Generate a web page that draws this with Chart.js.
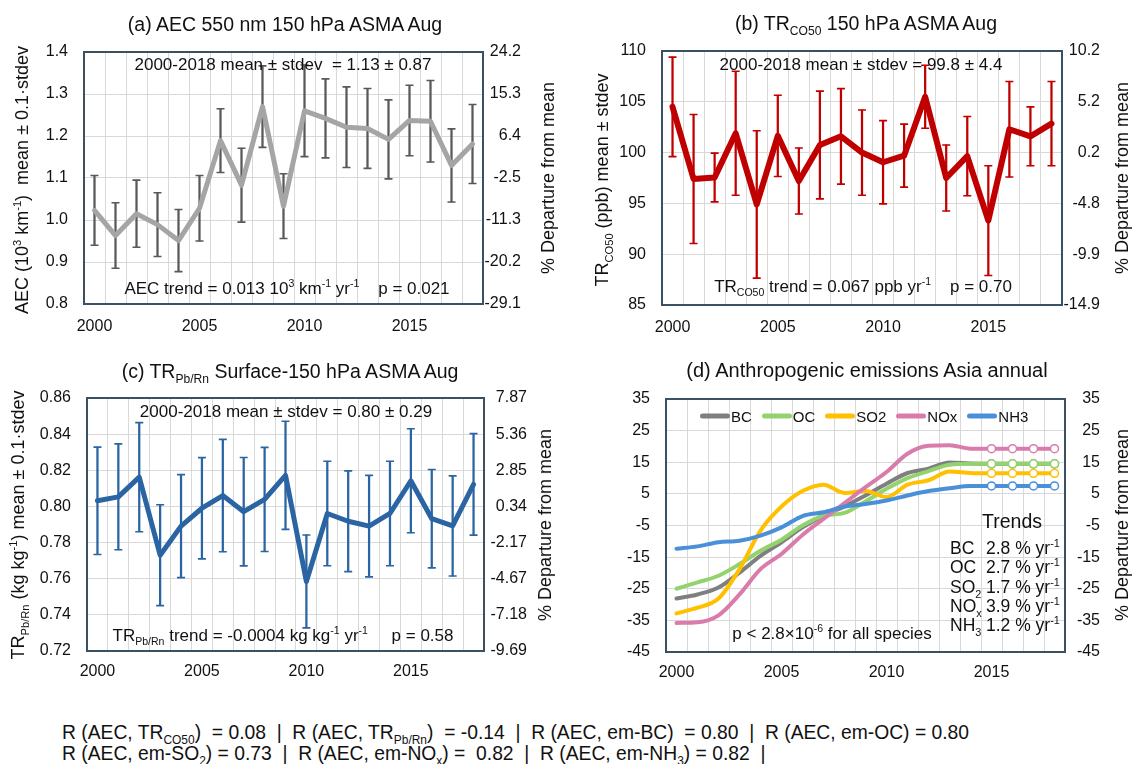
<!DOCTYPE html>
<html><head><meta charset="utf-8">
<script src="https://cdn.jsdelivr.net/npm/chart.js@4.4.1/dist/chart.umd.min.js"></script>
<style>
html,body{margin:0;padding:0;background:#fff;}
#page{position:relative;width:1132px;height:764px;overflow:hidden;font-family:'Liberation Sans',Arial,sans-serif;color:#111;background:#fff;}
canvas{position:absolute;}
.t{position:absolute;white-space:pre;transform:translate(-50%,-50%);line-height:1;}
.v{position:absolute;white-space:pre;transform:translate(-50%,-50%) rotate(-90deg);line-height:1;}
.l{position:absolute;white-space:pre;transform:translateY(-50%);line-height:1;}
sub,sup{font-size:0.62em;line-height:0;}
.title{font-size:19.5px;}
.axt{font-size:18px;}
.ann{font-size:17px;}
.tr{font-size:17.5px;}
#legendD{position:absolute;left:700px;top:416px;transform:translateY(-50%);display:flex;align-items:center;font-size:15px;}
#legendD .it{display:flex;align-items:center;margin-right:10px;}
#legendD .sw{display:inline-block;width:30px;height:5px;border-radius:3px;margin-right:1px;}
.bottom{position:absolute;left:62px;font-size:19.3px;white-space:pre;transform:translateY(-50%);line-height:1;}
</style>
</head><body>
<div id="page">
<canvas id="ca" width="566" height="340" style="left:0;top:0"></canvas>
<canvas id="cb" width="566" height="340" style="left:566px;top:0"></canvas>
<canvas id="cc" width="566" height="340" style="left:0;top:340px"></canvas>
<canvas id="cd" width="566" height="340" style="left:566px;top:340px"></canvas>

<!-- panel a -->
<div class="t title" style="left:285px;top:25px">(a) AEC 550 nm 150 hPa ASMA Aug</div>
<div class="v axt" style="left:22px;top:180px">AEC (10<sup>3</sup> km<sup>-1</sup>)  mean ± 0.1·stdev</div>
<div class="v axt" style="left:548px;top:178px">% Departure from mean</div>
<div class="t ann" style="left:283px;top:64px">2000-2018 mean ± stdev  = 1.13 ± 0.87</div>
<div class="t ann" style="left:287px;top:288px">AEC trend = 0.013 10<sup>3</sup> km<sup>-1</sup> yr<sup>-1</sup>    p = 0.021</div>

<!-- panel b -->
<div class="t title" style="left:866px;top:24px">(b) TR<sub>CO50</sub> 150 hPa ASMA Aug</div>
<div class="v axt" style="left:602px;top:180px">TR<sub>CO50</sub> (ppb) mean ± stdev</div>
<div class="v axt" style="left:1122px;top:178px">% Departure from mean</div>
<div class="t ann" style="left:861px;top:64px">2000-2018 mean ± stdev = 99.8 ± 4.4</div>
<div class="t ann" style="left:863px;top:286px">TR<sub>CO50</sub> trend = 0.067 ppb yr<sup>-1</sup>    p = 0.70</div>

<!-- panel c -->
<div class="t title" style="left:290px;top:372px">(c) TR<sub>Pb/Rn</sub> Surface-150 hPa ASMA Aug</div>
<div class="v axt" style="left:18px;top:525px">TR<sub>Pb/Rn</sub> (kg kg<sup>-1</sup>) mean ± 0.1·stdev</div>
<div class="v axt" style="left:545px;top:525px">% Departure from mean</div>
<div class="t ann" style="left:286px;top:411px">2000-2018 mean ± stdev = 0.80 ± 0.29</div>
<div class="t ann" style="left:283px;top:635px">TR<sub>Pb/Rn</sub> trend = -0.0004 kg kg<sup>-1</sup> yr<sup>-1</sup>     p = 0.58</div>

<!-- panel d -->
<div class="t title" style="left:867px;top:370px;font-size:20px">(d) Anthropogenic emissions Asia annual</div>
<div class="v axt" style="left:1122px;top:525px">% Departure from mean</div>
<div id="legendD"></div>
<div class="t" style="left:1012px;top:522px;font-size:19.5px">Trends</div>
<div class="l tr" style="left:950px;top:549px">BC</div><div class="l tr" style="left:986px;top:549px">2.8 % yr<sup>-1</sup></div>
<div class="l tr" style="left:950px;top:568px">OC</div><div class="l tr" style="left:986px;top:568px">2.7 % yr<sup>-1</sup></div>
<div class="l tr" style="left:950px;top:588px">SO<sub>2</sub></div><div class="l tr" style="left:986px;top:588px">1.7 % yr<sup>-1</sup></div>
<div class="l tr" style="left:950px;top:607px">NO<sub>x</sub></div><div class="l tr" style="left:986px;top:607px">3.9 % yr<sup>-1</sup></div>
<div class="l tr" style="left:950px;top:626px">NH<sub>3</sub></div><div class="l tr" style="left:986px;top:626px">1.2 % yr<sup>-1</sup></div>
<div class="t ann" style="left:832px;top:633px">p &lt; 2.8×10<sup>-6</sup> for all species</div>

<div class="bottom" style="top:733px">R (AEC, TR<sub>CO50</sub>)  = 0.08  |  R (AEC, TR<sub>Pb/Rn</sub>)  = -0.14  |  R (AEC, em-BC)  = 0.80  |  R (AEC, em-OC) = 0.80</div>
<div class="bottom" style="top:754px">R (AEC, em-SO<sub>2</sub>) = 0.73  |  R (AEC, em-NO<sub>x</sub>) =  0.82  |  R (AEC, em-NH<sub>3</sub>) = 0.82  |</div>
</div>

<script>
// ---------- data ----------
const YEARS = ['2000','2001','2002','2003','2004','2005','2006','2007','2008','2009','2010','2011','2012','2013','2014','2015','2016','2017','2018'];

const AEC     = [1.023,0.963,1.015,0.989,0.951,1.028,1.189,1.083,1.270,1.033,1.260,1.242,1.221,1.218,1.192,1.237,1.235,1.130,1.181];
const AEC_ERR = [0.083,0.078,0.080,0.076,0.074,0.078,0.076,0.088,0.097,0.077,0.109,0.094,0.096,0.095,0.094,0.084,0.097,0.087,0.094];
const AEC_RIGHT = ['-29.1','-20.2','-11.3','-2.5','6.4','15.3','24.2'];

const CO50     = [104.5,97.4,97.55,101.9,94.9,101.65,97.2,100.75,101.6,100.0,99.05,99.7,105.5,97.5,99.65,93.3,102.3,101.6,102.85];
const CO50_ERR = [4.9,6.35,2.4,6.1,7.25,4.0,3.25,5.3,4.7,4.2,4.1,3.1,3.1,3.25,3.9,5.4,4.7,2.9,4.15];
const CO50_RIGHT = ['-14.9','-9.9','-4.8','0.2','5.2','10.2'];

const PBRN     = [0.8031,0.8053,0.8162,0.7730,0.7891,0.7990,0.8060,0.7971,0.8039,0.8172,0.7585,0.7961,0.7918,0.7891,0.7961,0.8142,0.7932,0.7892,0.8122];
const PBRN_ERR = [0.0297,0.0293,0.0302,0.0279,0.0285,0.0280,0.0311,0.0300,0.0288,0.0299,0.0257,0.0289,0.0279,0.0281,0.0289,0.0288,0.0272,0.0277,0.0281];
const PBRN_RIGHT = ['-9.69','-7.18','-4.67','-2.17','0.34','2.85','5.36','7.87'];

const EM_BC  = [-28.1,-26.8,-24.6,-19.9,-14.6,-10.3,-5.6,-1.9,1.0,4.5,8.2,11.6,13.0,14.9,14.6,14.5,14.5,14.5,14.5];
const EM_OC  = [-25.0,-23.0,-20.9,-17.2,-13.0,-9.5,-5.0,-1.9,-1.0,2.6,6.6,10.0,12.2,14.2,14.5,14.5,14.5,14.5,14.5];
const EM_SO2 = [-32.8,-31.0,-28.1,-18.8,-6.6,1.0,5.9,7.9,5.3,5.9,4.0,7.9,9.3,12.1,11.6,11.5,11.5,11.5,11.5];
const EM_NOX = [-35.8,-35.6,-33.4,-26.8,-18.8,-14.0,-8.0,-2.9,2.1,7.1,11.9,17.7,20.2,20.4,19.3,19.3,19.3,19.3,19.3];
const EM_NH3 = [-12.35,-11.6,-10.3,-9.8,-8.2,-5.6,-2.0,-0.8,1.0,1.8,2.9,4.5,5.9,6.8,7.5,7.5,7.5,7.5,7.5];
const EM_NAMES = ['BC','OC','SO2','NOx','NH3'];
const EM_TICKS_RIGHT = ['-45','-35','-25','-15','-5','5','15','25','35'];
const OPEN_FROM = '2015';

// ---------- style ----------
Chart.defaults.font.family = "'Liberation Sans', Arial, sans-serif";
Chart.defaults.color = '#111';
Chart.defaults.animation = false;
Chart.defaults.events = [];
Chart.defaults.plugins.legend.display = false;
Chart.defaults.plugins.tooltip.enabled = false;

const GRID = '#d9d9d9', FRAME = '#3a5163';
const framePlugin = {
  id: 'frame',
  afterDraw(chart) {
    const {ctx, chartArea: a} = chart;
    ctx.save(); ctx.strokeStyle = FRAME; ctx.lineWidth = 2;
    ctx.strokeRect(a.left, a.top, a.right - a.left, a.bottom - a.top);
    ctx.restore();
  }
};

function scalesFor(cfg) {
  return {
    x: {type:'category', offset:true, grid:{offset:true, color:GRID, drawTicks:false}, border:{display:false},
        ticks:{autoSkip:false, maxRotation:0, minRotation:0, padding:cfg.xpad, font:{size:16},
          callback(v){ const l = this.getLabelForValue(v); return Number(l) % 5 === 0 ? l : ''; }},
        afterFit(s){ s.height = cfg.hx; }},
    y: {position:'left', min:cfg.min, max:cfg.max, grid:{color:GRID, drawTicks:false}, border:{display:false},
        ticks:{stepSize:cfg.step, padding:cfg.lpad, font:{size:16}, callback:(v)=>v.toFixed(cfg.dec)},
        afterFit(s){ s.width = cfg.wl; }},
    y2:{position:'right', min:cfg.min, max:cfg.max, grid:{display:false, drawTicks:false}, border:{display:false},
        ticks:{stepSize:cfg.step, padding:0, crossAlign:'far', font:{size:16}, callback:(v,i)=>cfg.right[i]},
        afterFit(s){ s.width = cfg.wr; }}
  };
}

function errorChart(id, values, errs, color, barColor, lw, cfg) {
  const lows = values.map((v,i)=>v-errs[i]);
  const highs = values.map((v,i)=>v+errs[i]);
  return new Chart(document.getElementById(id), {
    type:'line',
    data:{labels:YEARS, datasets:[
      {type:'line', data:values, borderColor:color, borderWidth:lw, pointRadius:0, tension:0,
       borderJoinStyle:'round', borderCapStyle:'round', order:1, yAxisID:'y'},
      {type:'bar', data:values.map((v,i)=>[lows[i], highs[i]]), backgroundColor:barColor, borderWidth:0,
       barThickness:1.6, order:4, yAxisID:'y'},
      {type:'line', data:highs, showLine:false, pointStyle:'line', pointRadius:4, pointBorderWidth:1.6,
       pointBorderColor:barColor, order:3, yAxisID:'y'},
      {type:'line', data:lows, showLine:false, pointStyle:'line', pointRadius:4, pointBorderWidth:1.6,
       pointBorderColor:barColor, order:3, yAxisID:'y'}
    ]},
    options:{responsive:false, layout:{padding:{top:cfg.pt, left:0, right:cfg.pr, bottom:0}}, scales:scalesFor(cfg)},
    plugins:[framePlugin]
  });
}

errorChart('ca', AEC, AEC_ERR, '#a5a5a5', '#595959', 5,
  {min:0.8, max:1.4, step:0.1, dec:1, right:AEC_RIGHT, wl:84, wr:38, pr:45, pt:52, hx:36, xpad:13, lpad:16});
errorChart('cb', CO50, CO50_ERR, '#c00000', '#c00000', 6,
  {min:85, max:110, step:5, dec:0, right:CO50_RIGHT, wl:96, wr:38, pr:32, pt:51, hx:35, xpad:13, lpad:16});
errorChart('cc', PBRN, PBRN_ERR, '#2b64a2', '#2b64a2', 5,
  {min:0.72, max:0.86, step:0.02, dec:2, right:PBRN_RIGHT, wl:87, wr:43, pr:39, pt:58, hx:29, xpad:11, lpad:16});

// panel d
const EM_COLORS = ['#7f7f7f','#92d36e','#ffc000','#d97cab','#4a90d9'];
const EM_DATA = [EM_BC, EM_OC, EM_SO2, EM_NOX, EM_NH3];
const openIdx = YEARS.indexOf(OPEN_FROM);
const chartD = new Chart(document.getElementById('cd'), {
  type:'line',
  data:{labels:YEARS, datasets:EM_NAMES.map((n,k)=>({
    label:n, data:EM_DATA[k], borderColor:EM_COLORS[k], backgroundColor:EM_COLORS[k], borderWidth:4,
    cubicInterpolationMode:'monotone', borderCapStyle:'round', borderJoinStyle:'round',
    pointRadius:(c)=>c.dataIndex >= openIdx ? 4 : 0, pointBackgroundColor:'#ffffff',
    pointBorderColor:EM_COLORS[k], pointBorderWidth:1.5, order:EM_NAMES.length - k
  }))},
  options:{responsive:false, layout:{padding:{top:59, left:0, right:32, bottom:0}},
    scales:scalesFor({min:-45, max:35, step:10, dec:0, right:EM_TICKS_RIGHT, wl:100, wr:35, xpad:11, lpad:16, hx:28})},
  plugins:[framePlugin]
});

// HTML legend for panel d built from the chart's legend items
const legendBox = document.getElementById('legendD');
chartD.options.plugins.legend.labels.generateLabels(chartD)
  .sort((a,b)=>a.datasetIndex - b.datasetIndex)
  .forEach(item => {
    const it = document.createElement('div'); it.className = 'it';
    const sw = document.createElement('span'); sw.className = 'sw'; sw.style.background = item.strokeStyle;
    const tx = document.createElement('span'); tx.textContent = item.text;
    it.appendChild(sw); it.appendChild(tx); legendBox.appendChild(it);
  });
</script>
</body></html>
